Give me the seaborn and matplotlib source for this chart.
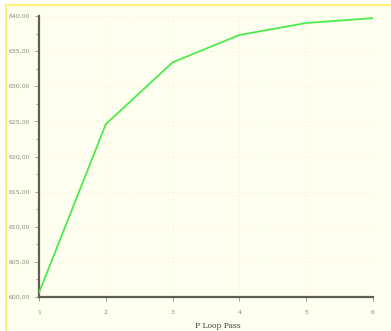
import numpy as np
import pandas as pd
import seaborn as sns
import matplotlib.pyplot as plt
from matplotlib.patches import Rectangle
from matplotlib.lines import Line2D
from matplotlib.ticker import MultipleLocator, FuncFormatter

# data
loop_pass = [1, 2, 3, 4, 5, 6]
values = [600.6, 624.6, 633.4, 637.3, 639.0, 639.7]

bg = '#FFFFF0'

sns.set_style('white')
fig = plt.figure(figsize=(3.91, 3.31), dpi=100, facecolor='white')

# pale panel with yellow edge on left and top
fig.patches.append(Rectangle((6 / 391, 0), 1, (331 - 5) / 331, transform=fig.transFigure,
                             facecolor=bg, edgecolor='none', zorder=-2))
fig.lines.append(Line2D([6 / 391, 6 / 391], [0, (331 - 5) / 331], transform=fig.transFigure,
                        color='#FFF27A', lw=1.5, zorder=-1))
fig.lines.append(Line2D([6 / 391, 1], [(331 - 5) / 331, (331 - 5) / 331], transform=fig.transFigure,
                        color='#FFF27A', lw=1.5, zorder=-1))

ax = fig.add_axes([39 / 391, 34 / 331, (373 - 39) / 391, (297 - 16) / 331])
ax.set_facecolor(bg)

df = pd.DataFrame({'pass': loop_pass, 'val': values})
sns.lineplot(data=df, x='pass', y='val', ax=ax, color='#4CEB4C', lw=1.3, zorder=3)

ax.set_xlim(1, 6)
ax.set_ylim(600, 640)
ax.xaxis.set_major_locator(MultipleLocator(1))
ax.yaxis.set_major_locator(MultipleLocator(5))
ax.yaxis.set_minor_locator(MultipleLocator(2.5))
ax.yaxis.set_major_formatter(FuncFormatter(lambda v, p: '{:.2f}'.format(v).replace('.', ',')))

ax.grid(True, which='major', color='#F6EBD0', lw=0.7, ls=(0, (1, 3)))
for s in ['top', 'right']:
    ax.spines[s].set_visible(False)
for s in ['left', 'bottom']:
    ax.spines[s].set_color('#5E5E54')
    ax.spines[s].set_linewidth(1.6)

ax.tick_params(axis='both', which='both', direction='out', colors='#8A8A80',
               labelsize=4.5, labelcolor='#8A8A80', length=3, width=0.6,
               bottom=True, left=True)
ax.tick_params(axis='x', pad=6)
ax.tick_params(axis='y', which='minor', length=2)
ax.set_xlabel('P Loop Pass', fontsize=5.5, color='#404040', family='DejaVu Serif')
ax.xaxis.set_label_coords((218 - 39) / 334, -25 / 281)
ax.set_ylabel('')

fig.savefig('out.png', dpi=100, facecolor='white')
